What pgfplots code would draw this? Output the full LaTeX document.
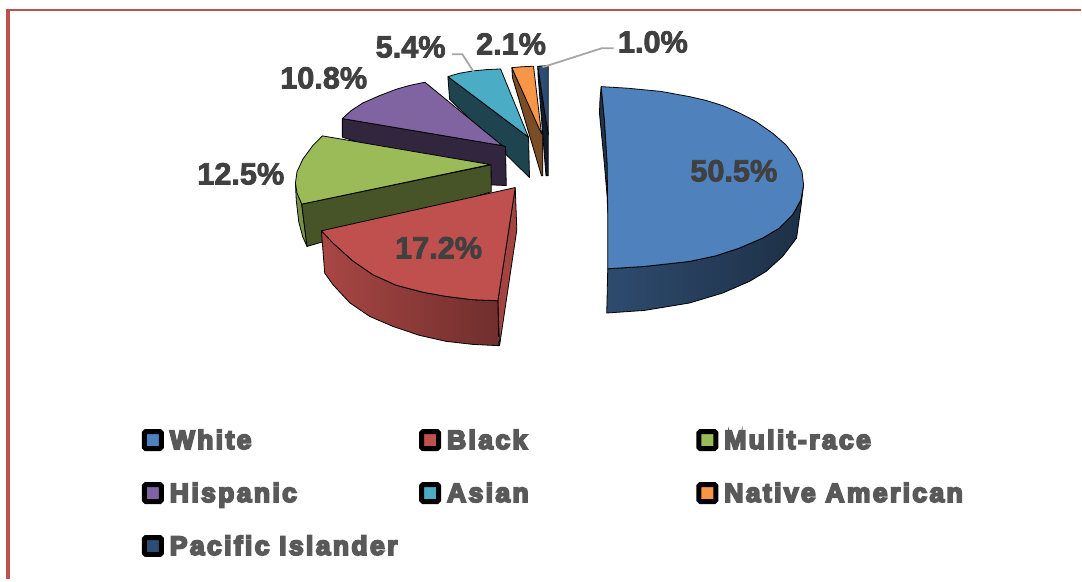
\documentclass[border=0pt]{standalone}
\usepackage{pgfplots}
\pgfplotsset{compat=1.18}
\usepackage{fontspec}
\setmainfont{Liberation Sans}
\newfontfamily\labelfont[BoldFeatures={FakeBold=2.5}]{Liberation Sans}
\newfontfamily\legfont[BoldFeatures={FakeBold=7,LetterSpace=9}]{Liberation Sans}
\newcommand{\legname}[1]{\makebox[255.5pt][l]{\hspace{6pt}\legfont\bfseries\fontsize{26.5}{30}\selectfont\color{legtxt}#1}}
\definecolor{cWhite}{HTML}{4F81BD}
\definecolor{cBlack}{HTML}{C0504D}
\definecolor{cMulti}{HTML}{9BBB59}
\definecolor{cHisp}{HTML}{8064A2}
\definecolor{cAsian}{HTML}{4BACC6}
\definecolor{cNative}{HTML}{F79646}
\definecolor{cPacific}{HTML}{2C4D75}
\definecolor{txt}{HTML}{404040}
\definecolor{legtxt}{HTML}{595959}
\definecolor{leader}{HTML}{A6A6A6}
\tikzset{
  slab/.style={font=\fontsize{30.7}{36}\selectfont\labelfont\bfseries,text=txt,inner sep=0pt},
}
\pgfplotsset{
  face/.style={forget plot,draw=black,line width=0.8pt,line join=round,fill=#1},
  shadedface/.style={forget plot,draw=black,line width=0.8pt,line join=round},
  swatch/.style={legend image code/.code={
    \draw[black,line width=5pt,rounded corners=1.5pt,fill=#1] (0pt,-8.5pt) rectangle (17pt,8.5pt);}},
}
\begin{document}
\begin{tikzpicture}
\begin{axis}[
  scale only axis,width=1082pt,height=580pt,
  xmin=0,xmax=1082,ymin=0,ymax=580,y dir=reverse,
  hide axis,clip=false,
  legend columns=3,
  legend cell align=left,
  legend style={at={(axis cs:142,429.5)},anchor=north west,draw=none,fill=none,
    inner sep=0pt,outer sep=0pt,
    /tikz/row sep=31pt,/tikz/column sep=0pt,
    nodes={inner sep=0pt,outer sep=0pt,anchor=west}},
]
% keeps the page as large as the whole slide
\path (axis cs:0,0) (axis cs:1082,580);

% frame of the slide
\addplot[forget plot,color=cBlack,line width=4pt] coordinates {(8,580)(8,9)};
\addplot[forget plot,color=cBlack,line width=2pt] coordinates {(6,10)(1082,10)};

% Pacific Islander
\addplot[face={black!62!cPacific}] coordinates {(538.3,66.3)(538.5,75)(546.5,176)(548.7,176)(548.7,133.3)(538.3,66.3)};
\addplot[face=cPacific] coordinates {(538.3,66.3)(548.7,65.7)(548.7,135)(538.3,66.3)};

% Native American
\addplot[face={black!60!cNative!75!brown}] coordinates {(512.3,67.7)(513,78)(542,176)(543.3,176)(543.3,135)(512.3,67.7)};
\addplot[face=cNative] coordinates {(512.3,67.7)(523,66.8)(534,66.3)(542,134)(512.3,67.7)};

% Asian
\addplot[face={black!60!cAsian}] coordinates {(448.3,76.7)(450,99.3)(530,177.7)(529,137.3)(448.3,76.7)};
\addplot[face=cAsian] coordinates {(448.3,76.7)(460,73.3)(473.3,71)(486.7,69.7)(501,69)(529,137.3)(448.3,76.7)};

% Hispanic
\addplot[face={black!62!cHisp}] coordinates {(342.7,118.7)(342.7,137.3)(490.7,185)(506.7,185.7)(506,146.7)(502.7,145.7)(342.7,118.7)};
\addplot[face=cHisp] coordinates {(342.7,118.7)(351.7,110.5)(363.3,103)(380,95.7)(396.7,89.3)(410,85.5)(425.3,82.3)(502.7,145.7)(342.7,118.7)};

% Multi-race
\addplot[face={black!22!cMulti}] coordinates {(295.7,183)(296.5,200)(299,222)(303,237)(307.3,246.7)(302,204.3)(295.7,183)};
\addplot[face={black!55!cMulti}] coordinates {(302,204.3)(307.3,246.7)(491.7,192)(491.5,165)(302,204.3)};
\addplot[face=cMulti] coordinates {(322.7,136)(490.7,164.7)(302,204.3)(297.3,193.3)(295.7,183.3)(297.3,171.7)(303.3,159)(313.3,145.5)(322.7,136)};

% Black
\addplot[face={black!15!cBlack}] coordinates {(515.7,187.7)(517.3,230)(500,346)(498.3,301)(515.7,187.7)};
\addplot[shadedface,left color=black!12!cBlack,middle color=black!28!cBlack,right color=black!42!cBlack] coordinates {(321.7,231)(325,273.3)(333.3,285)(350,303)(370,316.7)(393.3,326.7)(420,335.7)(446.7,341.7)(473.3,344.7)(499.3,346)(498.3,301)(473.3,300)(446.7,296.7)(423.3,292.5)(396.7,285.5)(373.3,275)(353,261)(333.3,243.3)(321.7,231)};
\addplot[face=cBlack] coordinates {(515.7,187.7)(498.3,301)(473.3,300)(446.7,296.7)(423.3,292.5)(396.7,285.5)(373.3,275)(353,261)(333.3,243.3)(321.7,231)(515.7,187.7)};

% White
\addplot[face={black!60!cWhite}] coordinates {(601.7,86.7)(600.5,100)(600,113.3)(602.3,136.7)(605,165)(607.7,196.7)(608.3,213)(607.7,163.3)(605,120)(601.7,86.7)};
\addplot[shadedface,left color=black!42!cWhite,middle color=black!63!cWhite,right color=black!63!cWhite] coordinates {(608.3,269)(607.3,313.3)(645,310.7)(690,303.3)(723.3,293.3)(750,281.7)(766.7,271.7)(783.3,256.7)(797.3,238.3)(801.7,206.7)(804.3,185)(801.7,200)(793.3,215)(780,228.3)(763.3,238.3)(740,248.3)(716.7,256)(690,261.7)(645,266.7)(608.3,269)};
\addplot[face=cWhite] coordinates {(601.7,86.7)(628.3,88.3)(661.7,91.5)(690,96.7)(706.7,100.5)(723.3,105.7)(740,113)(756.7,121.7)(773.3,133.3)(786.7,145)(796.7,158.3)(802.7,171.7)(804.3,185)(801.7,200)(793.3,215)(780,228.3)(763.3,238.3)(740,248.3)(716.7,256)(690,261.7)(645,266.7)(608.3,269)(608.3,213)(607.7,163.3)(605,120)(601.7,86.7)};

% leader lines for the narrow slices
\addplot[forget plot,color=leader,line width=1.8pt] coordinates {(452.3,54.3)(462.7,54.3)(474,71.7)};
\addplot[forget plot,color=leader,line width=1.8pt] coordinates {(614.3,48.3)(602.3,48.3)(543,67.3)};

% value labels
\node[slab] at (axis cs:734.5,171) {50.5\%};
\node[slab] at (axis cs:439,248) {17.2\%};
\node[slab] at (axis cs:241,174) {12.5\%};
\node[slab] at (axis cs:324,78) {10.8\%};
\node[slab] at (axis cs:411,47) {5.4\%};
\node[slab] at (axis cs:511.5,44) {2.1\%};
\node[slab] at (axis cs:653.5,42) {1.0\%};

% legend, read row by row
\addlegendimage{swatch=cWhite}
\addlegendentry{\legname{White}}
\addlegendimage{swatch=cBlack}
\addlegendentry{\legname{Black}}
\addlegendimage{swatch=cMulti}
\addlegendentry{\legname{Mulit-race}}
\addlegendimage{swatch=cHisp}
\addlegendentry{\legname{Hispanic}}
\addlegendimage{swatch=cAsian}
\addlegendentry{\legname{Asian}}
\addlegendimage{swatch=cNative}
\addlegendentry{\legname{Native American}}
\addlegendimage{swatch=cPacific}
\addlegendentry{\legname{Pacific Islander}}
\end{axis}
\end{tikzpicture}
\end{document}
